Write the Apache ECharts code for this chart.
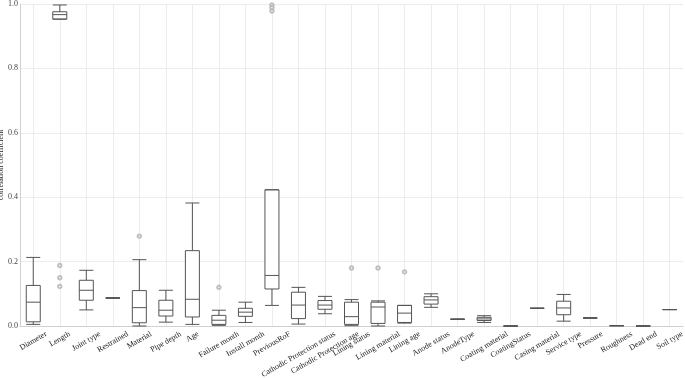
<!DOCTYPE html>
<html>
<head>
<meta charset="utf-8">
<script src="https://cdn.jsdelivr.net/npm/echarts@6/dist/echarts.min.js"></script>
<style>
  html, body { margin: 0; padding: 0; background: #fff; }
</style>
</head>
<body>
<div id="main" style="width:685px; height:378px;"></div>
<script>
// feature names along the x axis
var features = ['Diameter', 'Length', 'Joint type', 'Restrained', 'Material', 'Pipe depth', 'Age',
  'Failure month', 'Install month', 'PreviousRoF', 'Cathodic Protection status', 'Cathodic Protection age',
  'Lining status', 'Lining material', 'Lining age', 'Anode status', 'AnodeType', 'Coating material',
  'CoatingStatus', 'Casing material', 'Service type', 'Pressure', 'Roughness', 'Dead end', 'Soil type'];

// [low whisker, Q1, median, Q3, high whisker]
var boxes = [
  [0.005, 0.013, 0.074, 0.126, 0.213],
  [0.953, 0.953, 0.967, 0.976, 0.997],
  [0.050, 0.080, 0.111, 0.142, 0.173],
  [0.087, 0.087, 0.087, 0.087, 0.087],
  [0.000, 0.010, 0.057, 0.110, 0.206],
  [0.012, 0.031, 0.049, 0.080, 0.111],
  [0.005, 0.028, 0.083, 0.234, 0.382],
  [0.002, 0.005, 0.018, 0.033, 0.049],
  [0.011, 0.030, 0.043, 0.055, 0.074],
  [0.064, 0.115, 0.157, 0.423, 0.423],
  [0.006, 0.023, 0.065, 0.105, 0.120],
  [0.038, 0.052, 0.065, 0.079, 0.092],
  [0.001, 0.005, 0.029, 0.074, 0.082],
  [0.000, 0.008, 0.059, 0.074, 0.078],
  [0.009, 0.011, 0.040, 0.064, 0.064],
  [0.058, 0.068, 0.081, 0.091, 0.100],
  [0.021, 0.021, 0.021, 0.021, 0.021],
  [0.011, 0.017, 0.022, 0.027, 0.032],
  [0.000, 0.000, 0.000, 0.000, 0.000],
  [0.055, 0.055, 0.055, 0.055, 0.055],
  [0.015, 0.035, 0.056, 0.077, 0.098],
  [0.025, 0.025, 0.025, 0.025, 0.025],
  [0.001, 0.001, 0.001, 0.001, 0.001],
  [0.000, 0.000, 0.000, 0.000, 0.000],
  [0.051, 0.051, 0.051, 0.051, 0.051]
];

// outliers: [category index, value]
var outliers = [
  [1, 0.188], [1, 0.150], [1, 0.123],
  [4, 0.279],
  [7, 0.120],
  [9, 0.997], [9, 0.988], [9, 0.978],
  [12, 0.180],
  [13, 0.180],
  [14, 0.168]
];

var labelFont = 'Liberation Serif';
var labelSize = 8;
var labelAngle = 30;

var myChart = echarts.init(document.getElementById('main'));
myChart.setOption({
  animation: false,
  grid: { left: 20, right: 2, top: 4, bottom: 52, outerBoundsMode: 'none', containLabel: false },
  xAxis: {
    type: 'category',
    data: features,
    boundaryGap: true,
    axisLine: { lineStyle: { color: '#d0d0d0' } },
    axisTick: { show: false },
    splitLine: { show: false },
    axisLabel: { show: false }
  },
  yAxis: {
    type: 'value',
    min: 0,
    max: 1,
    interval: 0.2,
    name: 'correlation coefficient',
    nameLocation: 'middle',
    nameGap: 15,
    nameMoveOverlap: false,
    nameTextStyle: { fontFamily: labelFont, fontSize: 8, color: '#222' },
    axisLine: { show: true, lineStyle: { color: '#d0d0d0' } },
    axisTick: { show: false },
    splitLine: { lineStyle: { color: '#ececec' } },
    axisLabel: {
      margin: 2,
      fontFamily: labelFont,
      fontSize: 8,
      color: '#444',
      formatter: function (v) { return v.toFixed(1); }
    }
  },
  series: [
    {
      // vertical grid lines through each category centre
      type: 'scatter',
      data: [],
      z: 0,
      markLine: {
        silent: true,
        symbol: 'none',
        z: 0,
        label: { show: false },
        lineStyle: { color: '#ececec', type: 'solid', width: 1 },
        data: features.map(function (f) { return { xAxis: f }; })
      }
    },
    {
      type: 'boxplot',
      data: boxes,
      z: 3,
      boxWidth: [14, 14],
      itemStyle: { color: '#fff', borderColor: '#555', borderWidth: 1 }
    },
    {
      type: 'scatter',
      data: outliers,
      z: 4,
      symbol: 'emptyCircle',
      symbolSize: 3.5,
      itemStyle: { color: '#b0b0b0', borderWidth: 0.6 }
    }
  ]
});

// x labels: rotated, centred under each category (measured so the rotated box sits below the axis)
var ctx = document.createElement('canvas').getContext('2d');
ctx.font = labelSize + 'px "' + labelFont + '"';
var rad = labelAngle * Math.PI / 180;
var axisY = myChart.convertToPixel({ yAxisIndex: 0 }, 0);
var texts = features.map(function (name, i) {
  var w = ctx.measureText(name).width;
  var h = w * Math.sin(rad) + labelSize * Math.cos(rad);
  return {
    type: 'text',
    x: myChart.convertToPixel({ xAxisIndex: 0 }, name),
    y: axisY + 4 + h / 2,
    rotation: rad,
    style: {
      text: name,
      font: labelSize + 'px "' + labelFont + '"',
      fill: '#222',
      align: 'center',
      verticalAlign: 'middle'
    }
  };
});
myChart.setOption({ graphic: texts });
</script>
</body>
</html>
